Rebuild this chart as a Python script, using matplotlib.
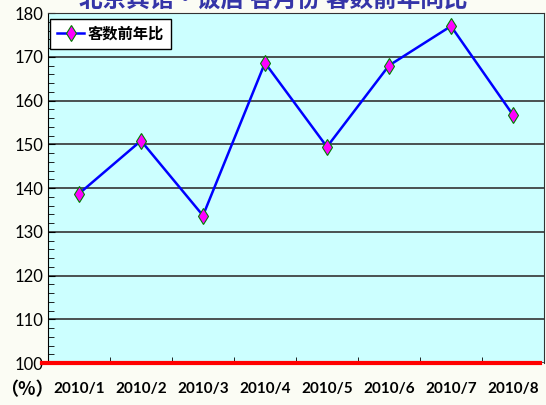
import numpy as np
import matplotlib.pyplot as plt
from matplotlib.ticker import MultipleLocator

plt.rcParams['font.family'] = ['Lato', 'Noto Sans CJK SC', 'DejaVu Sans']

# 数据
months = ['2010/1', '2010/2', '2010/3', '2010/4', '2010/5', '2010/6', '2010/7', '2010/8']
ratio = [138.7, 150.8, 133.7, 168.6, 149.4, 168.0, 177.0, 156.7]
series_name = '客数前年比'

fig = plt.figure(figsize=(5.46, 4.05), dpi=100, facecolor='#FBFCF4')
ax = fig.add_axes([0.0879, 0.1037, 0.9084, 0.8642])
ax.set_facecolor('#CCFFFF')

x = np.arange(len(months))
ax.plot(x, ratio, color='#0000FF', linewidth=1.8, marker='d', markersize=8.5,
        markerfacecolor='#FF00FF', markeredgecolor='#008000', markeredgewidth=0.8,
        label=series_name, zorder=3)

ax.set_xlim(-0.5, len(months) - 0.5)
ax.set_ylim(100, 180)

# 网格线
ax.yaxis.set_major_locator(MultipleLocator(10))
ax.yaxis.set_minor_locator(MultipleLocator(2))
ax.grid(axis='y', which='major', color='#333333', linewidth=1.2)
ax.set_axisbelow(True)

ax.set_xticks(x)
ax.set_xticklabels(months, fontsize=11, fontweight='bold')
ax.set_xticks(np.arange(len(months) + 1) - 0.5, minor=True)
ax.tick_params(axis='x', which='major', length=0, pad=14)
ax.tick_params(axis='x', which='minor', direction='in', length=4, color='black')
ax.tick_params(axis='y', which='major', direction='in', length=5, labelsize=12, pad=3)
ax.tick_params(axis='y', which='minor', direction='in', length=4)

for s in ['top', 'right']:
    ax.spines[s].set_color('#333333')
ax.spines['left'].set_color('black')
ax.spines['bottom'].set_visible(False)
# 100% 基准线
ax.axhline(100, xmin=-0.012, xmax=0.992, color='#FF0000', linewidth=3, clip_on=False, zorder=4)

leg = ax.legend(loc='upper left', bbox_to_anchor=(0.004, 0.983), fancybox=False,
                framealpha=1, edgecolor='black', borderpad=0.45, handlelength=1.8,
                handletextpad=0.2, borderaxespad=0,
                prop={'family': ['Noto Sans CJK SC'], 'weight': 'bold', 'size': 11})
leg.get_frame().set_linewidth(1.0)

fig.text(0.0, 0.037, '（%）', fontsize=13, fontweight='bold',
         family=['Noto Sans CJK SC'], ha='left', va='center')

# 顶部标题（被裁掉一半）
fig.text(0.5, 1.0, '北京宾馆・饭店 各月份 客数前年同比', fontsize=17, fontweight='bold',
         color='#3535A8', family=['Noto Sans CJK SC'], ha='center', va='center')

fig.savefig('out.png', dpi=100, facecolor=fig.get_facecolor())
